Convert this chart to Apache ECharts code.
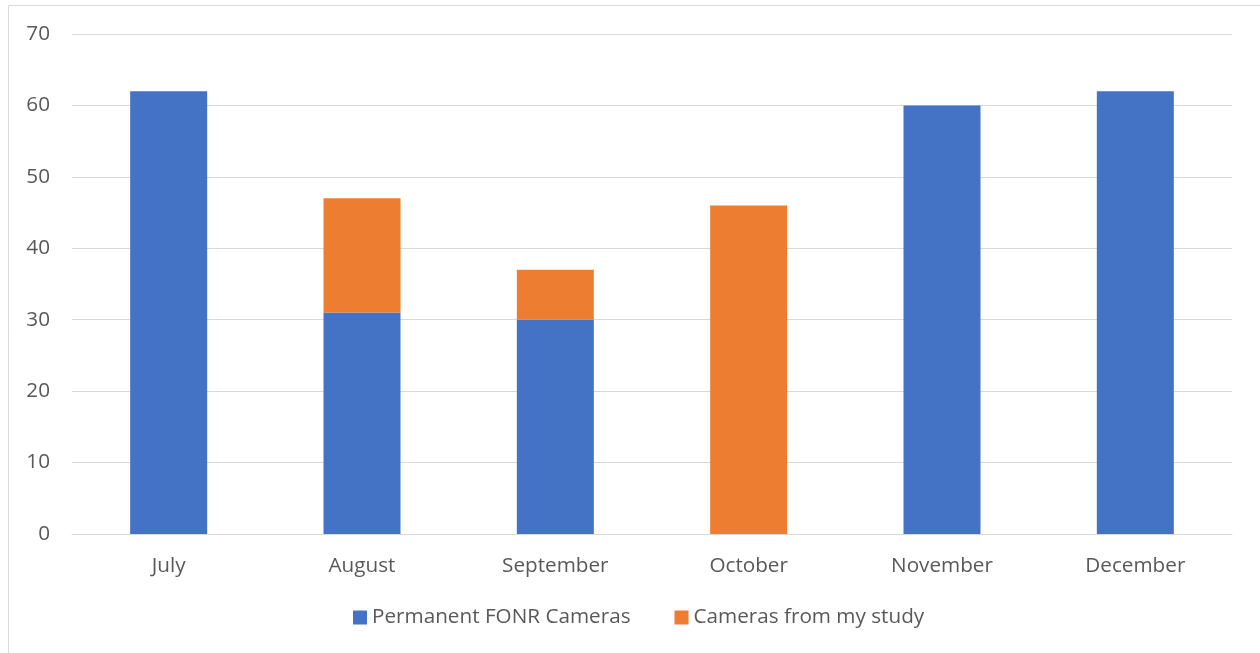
<!DOCTYPE html>
<html>
<head>
<meta charset="utf-8">
<script src="https://cdn.jsdelivr.net/npm/echarts@6/dist/echarts.min.js"></script>
<style>
  html, body { margin: 0; padding: 0; background: #fff; }
  #chart { width: 1260px; height: 653px; }
</style>
</head>
<body>
<div id="chart"></div>
<script>
// 月份与两组相机数量
const months = ['July', 'August', 'September', 'October', 'November', 'December']
const permanentFonr = [62, 31, 30, 0, 60, 62]
const myStudy = [0, 16, 7, 46, 0, 0]
const yTicks = { min: 0, max: 70, interval: 10 }

const font = '"Open Sans", "Noto Sans", sans-serif'
const textColor = '#595959'

const chart = echarts.init(document.getElementById('chart'))

chart.setOption({
  animation: false,
  textStyle: { fontFamily: font },
  graphic: [{
    type: 'rect',
    silent: true,
    shape: { x: 8.5, y: 5.5, width: 1400, height: 800 },
    style: { fill: 'none', stroke: '#d9d9d9', lineWidth: 1 }
  }],
  grid: { left: 72, right: 28, top: 34, bottom: 119 },
  legend: {
    bottom: 20,
    left: 348,
    itemWidth: 14,
    itemHeight: 14,
    itemGap: 44,
    icon: 'rect',
    textStyle: { color: textColor, fontSize: 20.7, fontFamily: font },
    data: ['Permanent FONR Cameras', 'Cameras from my study']
  },
  xAxis: {
    type: 'category',
    data: months,
    axisLine: { lineStyle: { color: '#d9d9d9', width: 1 } },
    axisTick: { show: false },
    axisLabel: { color: textColor, fontSize: 20.7, margin: 22, fontFamily: font }
  },
  yAxis: {
    type: 'value',
    min: yTicks.min,
    max: yTicks.max,
    interval: yTicks.interval,
    axisLine: { show: false },
    axisTick: { show: false },
    splitLine: { lineStyle: { color: '#d9d9d9', width: 1 } },
    axisLabel: { color: textColor, fontSize: 20.7, margin: 22, fontFamily: font }
  },
  series: [
    {
      name: 'Permanent FONR Cameras',
      type: 'bar',
      stack: 'total',
      barWidth: 77,
      itemStyle: { color: '#4472c4' },
      data: permanentFonr
    },
    {
      name: 'Cameras from my study',
      type: 'bar',
      stack: 'total',
      barWidth: 77,
      itemStyle: { color: '#ed7d31' },
      data: myStudy
    }
  ]
})
</script>
</body>
</html>
